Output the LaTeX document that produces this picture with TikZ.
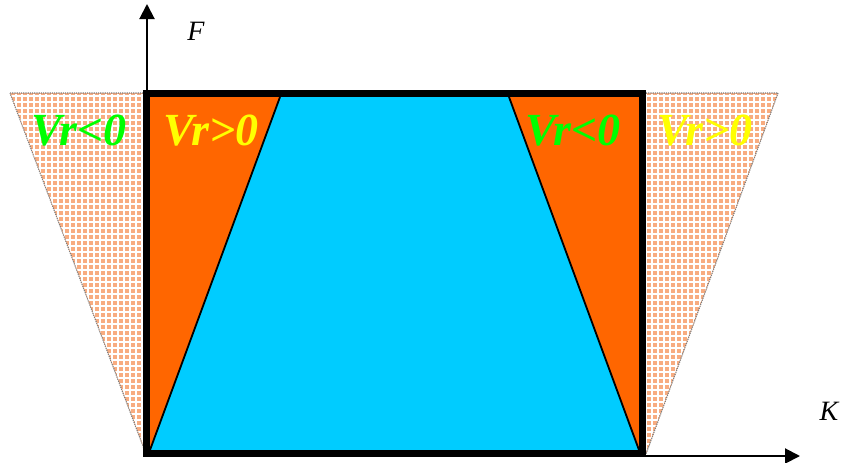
\documentclass[tikz,border=0pt]{standalone}
\usepackage{fontspec}
\setmainfont{Liberation Serif}
\usetikzlibrary{arrows.meta}

\definecolor{boxorange}{RGB}{255,102,0}
\definecolor{zoneblue}{RGB}{0,204,255}
\definecolor{peach}{RGB}{248,172,128}
\definecolor{vgreen}{RGB}{0,255,0}
\definecolor{vyellow}{RGB}{255,255,0}

\begin{document}
\begin{tikzpicture}[
  x=1pt, y=-1pt,
  >={Triangle[length=15pt,width=15pt]},
  axis/.style={line width=2pt,->},
  hatched/.style={fill=peach,draw=gray,densely dotted,line width=1.2pt},
  vlabel/.style={font=\fontsize{46}{46}\selectfont\bfseries\itshape,inner sep=0},
  axlabel/.style={font=\fontsize{28}{28}\selectfont\itshape,inner sep=0},
]
  \useasboundingbox (0,0) rectangle (841,463);

  % dotted side zones
  \draw[hatched] (10,93) -- (146,93) -- (146,454) -- cycle;
  \draw[hatched] (646,93) -- (778,93) -- (646,454) -- cycle;
  \begin{scope}
    \clip (11,94) -- (146,94) -- (146,452) -- cycle
          (646,94) -- (777,94) -- (646,452) -- cycle;
    \foreach \x in {4,10,...,784} \draw[white,line width=1.1pt] (\x,90) -- (\x,460);
    \foreach \y in {96,102,...,456} \draw[white,line width=1.1pt] (0,\y) -- (790,\y);
  \end{scope}

  % axes
  \coordinate (O) at (147,456);
  \coordinate (Ftip) at (147,4);
  \coordinate (Ktip) at (800,456);
  \draw[axis] (O) -- (Ftip);
  \draw[axis] (O) -- (Ktip);
  \node[axlabel] (F) at (196,31) {F};
  \node[axlabel] (K) at (829,411) {K};

  % main box
  \fill[boxorange] (146.5,93.5) rectangle (642.5,453.5);
  \coordinate (tl) at (280,97);
  \coordinate (tr) at (509,97);
  \coordinate (bl) at (150,450);
  \coordinate (br) at (639,450);
  \fill[zoneblue] (tl) -- (tr) -- (br) -- (bl) -- cycle;
  \draw[line width=1.8pt] (tl) -- (bl);
  \draw[line width=1.8pt] (tr) -- (br);
  \draw[line width=7pt] (146.5,93.5) rectangle (642.5,453.5);

  % labels
  \node[vlabel,text=vgreen] (v1) at (79,131) {Vr<0};
  \node[vlabel,text=vyellow] (v2) at (211,131) {Vr>0};
  \node[vlabel,text=vgreen] (v3) at (573,131) {Vr<0};
  \node[vlabel,text=vyellow] (v4) at (705,131) {Vr>0};
\end{tikzpicture}
\end{document}
